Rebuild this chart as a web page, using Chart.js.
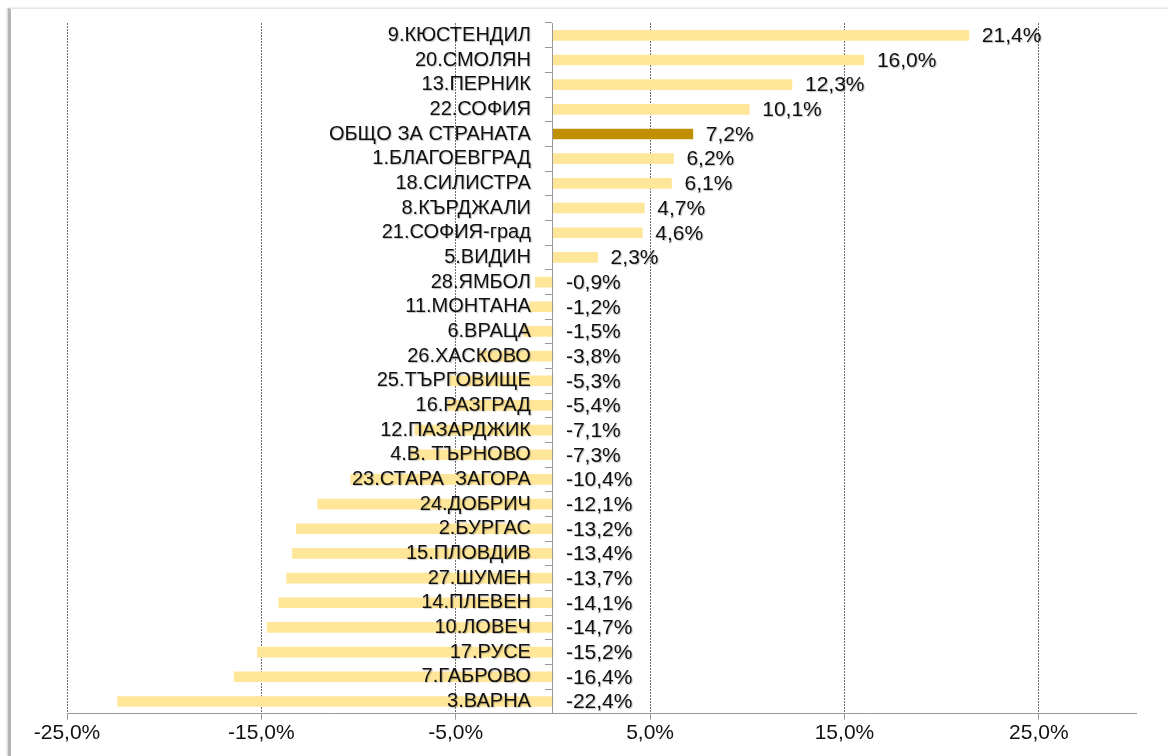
<!DOCTYPE html>
<html>
<head>
<meta charset="utf-8">
<script src="https://cdn.jsdelivr.net/npm/chart.js@4"></script>
<style>
  body { margin: 0; background: #fff; }
  #wrap { position: relative; width: 1168px; height: 756px; }
  #frame {
    position: absolute; left: 8px; top: 8px; right: 0; bottom: 0;
    border-left: 3px solid #b5b5b5; border-top: 1px solid #e6e6e6;
    box-shadow: -1px 0 2px #d0d0d0;
  }
  canvas { position: absolute; left: 0; top: 0; }
</style>
</head>
<body>
<div id="wrap">
  <div id="frame"></div>
  <canvas id="chart" width="1168" height="756"></canvas>
</div>
<script>
const categories = [
    '9.КЮСТЕНДИЛ', '20.СМОЛЯН', '13.ПЕРНИК', '22.СОФИЯ', 'ОБЩО ЗА СТРАНАТА',
    '1.БЛАГОЕВГРАД', '18.СИЛИСТРА', '8.КЪРДЖАЛИ', '21.СОФИЯ-град', '5.ВИДИН',
    '28.ЯМБОЛ', '11.МОНТАНА', '6.ВРАЦА', '26.ХАСКОВО', '25.ТЪРГОВИЩЕ',
    '16.РАЗГРАД', '12.ПАЗАРДЖИК', '4.В. ТЪРНОВО', '23.СТАРА  ЗАГОРА', '24.ДОБРИЧ',
    '2.БУРГАС', '15.ПЛОВДИВ', '27.ШУМЕН', '14.ПЛЕВЕН', '10.ЛОВЕЧ',
    '17.РУСЕ', '7.ГАБРОВО', '3.ВАРНА'
];
const growth = [
    21.4, 16.0, 12.3, 10.1, 7.2,
    6.2, 6.1, 4.7, 4.6, 2.3,
    -0.9, -1.2, -1.5, -3.8, -5.3,
    -5.4, -7.1, -7.3, -10.4, -12.1,
    -13.2, -13.4, -13.7, -14.1, -14.7,
    -15.2, -16.4, -22.4
];
const xTicks = [-25, -15, -5, 5, 15, 25];
const totalLabel = 'ОБЩО ЗА СТРАНАТА';

const FONT = '"Liberation Sans", Arial, sans-serif';
const fmt = v => v.toFixed(1).replace('.', ',') + '%';

// category names left of the zero line and values to the right, over the bars
const barLabels = {
    id: 'barLabels',
    afterDatasetsDraw(chart) {
        const ctx = chart.ctx;
        const zero = chart.scales.x.getPixelForValue(0);
        ctx.save();
        ctx.fillStyle = '#111';
        ctx.textBaseline = 'middle';
        ctx.shadowColor = 'rgba(0,0,0,0.25)';
        ctx.shadowOffsetX = 1;
        ctx.shadowOffsetY = 1;
        ctx.shadowBlur = 1;
        chart.getDatasetMeta(0).data.forEach((bar, i) => {
            const v = growth[i];
            ctx.font = '20px ' + FONT;
            ctx.textAlign = 'right';
            ctx.fillText(categories[i], zero - 22, bar.y);
            ctx.font = '21px ' + FONT;
            ctx.textAlign = 'left';
            ctx.fillText(fmt(v), v > 0 ? bar.x + 13 : zero + 13, bar.y + 1);
        });
        ctx.restore();
    }
};

new Chart(document.getElementById('chart'), {
    type: 'bar',
    data: {
        labels: categories,
        datasets: [{
            data: growth,
            backgroundColor: categories.map(c => c === totalLabel ? '#C09000' : '#FFE699'),
            barThickness: 10
        }]
    },
    options: {
        indexAxis: 'y',
        responsive: false,
        animation: false,
        layout: { padding: { left: 67, right: 32, top: 23, bottom: 9 } },
        plugins: {
            legend: { display: false },
            tooltip: { enabled: false }
        },
        scales: {
            x: {
                type: 'linear',
                min: -25,
                max: 30,
                afterBuildTicks: s => { s.ticks = xTicks.map(v => ({ value: v })); },
                grid: { color: '#707070', lineWidth: 1, tickLength: 6, tickColor: '#999', tickBorderDash: [] },
                border: { display: true, color: '#999', dash: [2, 1] },
                ticks: {
                    padding: 1,
                    color: '#111',
                    font: { family: FONT, size: 21 },
                    callback: v => fmt(v)
                }
            },
            y: {
                position: { x: 0 },
                grid: { z: 1, drawOnChartArea: false, drawTicks: true, tickLength: 7, color: '#999', offset: true },
                border: { z: 1, display: true, color: '#999' },
                ticks: { display: false }
            }
        }
    },
    plugins: [barLabels]
});
</script>
</body>
</html>
